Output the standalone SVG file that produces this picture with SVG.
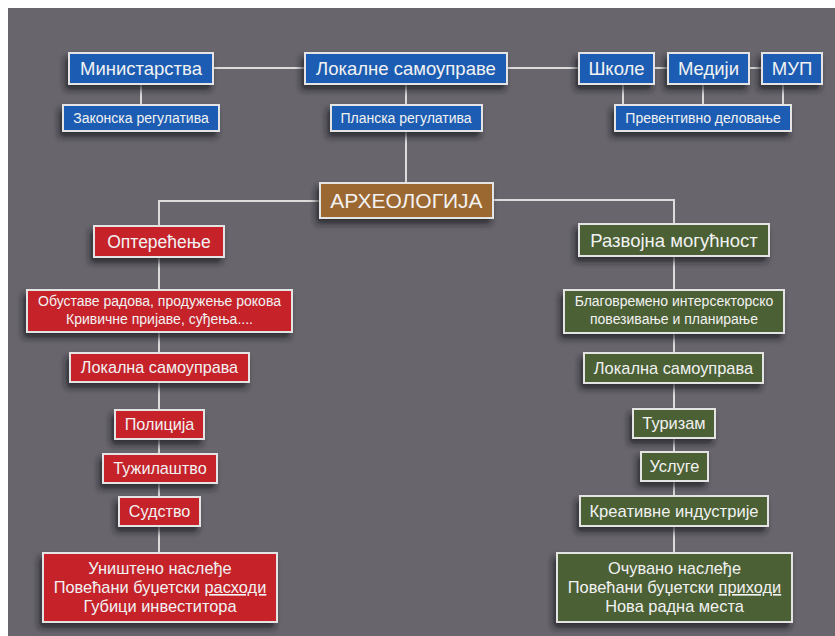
<svg xmlns="http://www.w3.org/2000/svg" width="835" height="636" viewBox="0 0 835 636">
<defs>
<filter id="sh" x="-20%" y="-30%" width="140%" height="180%">
<feDropShadow dx="-3" dy="5" stdDeviation="3" flood-color="#1e1d22" flood-opacity="0.75"/>
</filter>
<style>
.b{stroke:#e4e4e4;stroke-width:2;filter:url(#sh)}
.blue{fill:#1f5db3}
.red{fill:#c5212b}
.grn{fill:#4b6134}
.brn{fill:#9c6832}
text{font-family:"Liberation Sans",Arial,sans-serif;fill:#f2f2f2;text-anchor:middle}
.c path,.c line{stroke:#dcdcdc;stroke-width:2;fill:none}
</style>
</defs>
<rect x="0" y="0" width="835" height="636" fill="#ffffff"/>
<rect x="8" y="8" width="827" height="628" fill="#68666c"/>

<g class="c" id="connectors">
<line x1="213" y1="68" x2="305" y2="68"/>
<line x1="507" y1="68" x2="579" y2="68"/>
<line x1="654" y1="68" x2="668" y2="68"/>
<line x1="749" y1="68" x2="762" y2="68"/>
<line x1="141" y1="84" x2="141" y2="105"/>
<line x1="406" y1="84" x2="406" y2="105"/>
<line x1="406" y1="131" x2="406" y2="183"/>
<line x1="623" y1="84" x2="623" y2="105"/>
<line x1="703" y1="84" x2="703" y2="105"/>
<line x1="783" y1="84" x2="783" y2="105"/>
<path d="M320,201 H159 V226"/>
<path d="M493,200 H674 V224"/>
<line x1="159" y1="257" x2="159" y2="553"/>
<line x1="674" y1="256" x2="674" y2="553"/>
</g>

<g id="n-ministarstva"><rect class="b blue" x="69" y="53" width="144" height="31"/><text x="141" y="75" font-size="18.5">Министарства</text></g>
<g id="n-zakonska"><rect class="b blue" x="63" y="105" width="156" height="26"/><text x="141" y="123" font-size="14">Законска регулатива</text></g>
<g id="n-lokalne"><rect class="b blue" x="305" y="53" width="202" height="31"/><text x="406" y="75" font-size="18.5">Локалне самоуправе</text></g>
<g id="n-planska"><rect class="b blue" x="331" y="105" width="151" height="26"/><text x="406" y="123" font-size="14">Планска регулатива</text></g>
<g id="n-skole"><rect class="b blue" x="579" y="53" width="75" height="31"/><text x="616.5" y="75" font-size="18.5">Школе</text></g>
<g id="n-mediji"><rect class="b blue" x="668" y="53" width="81" height="31"/><text x="708.5" y="75" font-size="18.5">Медији</text></g>
<g id="n-mup"><rect class="b blue" x="762" y="53" width="60" height="31"/><text x="792" y="75" font-size="18.5">МУП</text></g>
<g id="n-preventivno"><rect class="b blue" x="615" y="105" width="176" height="26"/><text x="703" y="123" font-size="14">Превентивно деловање</text></g>

<g id="n-arheologija"><rect class="b brn" x="320" y="183" width="173" height="35"/><text x="406.5" y="208" font-size="21">АРХЕОЛОГИЈА</text></g>

<g id="n-opterecenje"><rect class="b red" x="94" y="226" width="130" height="31"/><text x="159" y="248" font-size="17.5">Оптерећење</text></g>
<g id="n-obustave"><rect class="b red" x="27" y="290" width="265" height="42"/><text x="159.5" y="306" font-size="14">Обуставе радова, продужење рокова</text><text x="159.5" y="324" font-size="14">Кривичне пријаве, суђења....</text></g>
<g id="n-lokalna-l"><rect class="b red" x="70" y="353" width="179" height="29"/><text x="159.5" y="373" font-size="16.2">Локална самоуправа</text></g>
<g id="n-policija"><rect class="b red" x="115" y="410" width="89" height="29"/><text x="159.5" y="430" font-size="16.2">Полиција</text></g>
<g id="n-tuzilastvo"><rect class="b red" x="103" y="454" width="114" height="29"/><text x="160" y="474" font-size="16.2">Тужилаштво</text></g>
<g id="n-sudstvo"><rect class="b red" x="119" y="497" width="81" height="29"/><text x="159.5" y="517" font-size="16.2">Судство</text></g>
<g id="n-unisteno"><rect class="b red" x="43" y="553" width="234" height="69"/>
<text x="160" y="574" font-size="16.4">Уништено наслеђе</text>
<text x="160" y="593" font-size="16.4">Повећани буџетски <tspan text-decoration="underline">расходи</tspan></text>
<text x="160" y="612" font-size="16.4">Губици инвеститора</text></g>

<g id="n-razvojna"><rect class="b grn" x="579" y="224" width="190" height="32"/><text x="674" y="247" font-size="18.5">Развојна могућност</text></g>
<g id="n-blagovremeno"><rect class="b grn" x="564" y="290" width="220" height="43"/><text x="674" y="306" font-size="14">Благовремено интерсекторско</text><text x="674" y="324" font-size="14">повезивање и планирање</text></g>
<g id="n-lokalna-r"><rect class="b grn" x="584" y="353" width="179" height="30"/><text x="673.5" y="374" font-size="16.4">Локална самоуправа</text></g>
<g id="n-turizam"><rect class="b grn" x="633" y="409" width="82" height="29"/><text x="674" y="429" font-size="16.4">Туризам</text></g>
<g id="n-usluge"><rect class="b grn" x="641" y="452" width="67" height="29"/><text x="674.5" y="472" font-size="16.4">Услуге</text></g>
<g id="n-kreativne"><rect class="b grn" x="580" y="496" width="188" height="30"/><text x="674" y="517" font-size="16.6">Креативне индустрије</text></g>
<g id="n-ocuvano"><rect class="b grn" x="557" y="553" width="235" height="69"/>
<text x="674.5" y="574" font-size="16.4">Очувано наслеђе</text>
<text x="674.5" y="593" font-size="16.4">Повећани буџетски <tspan text-decoration="underline">приходи</tspan></text>
<text x="674.5" y="612" font-size="16.4">Нова радна места</text></g>
</svg>
